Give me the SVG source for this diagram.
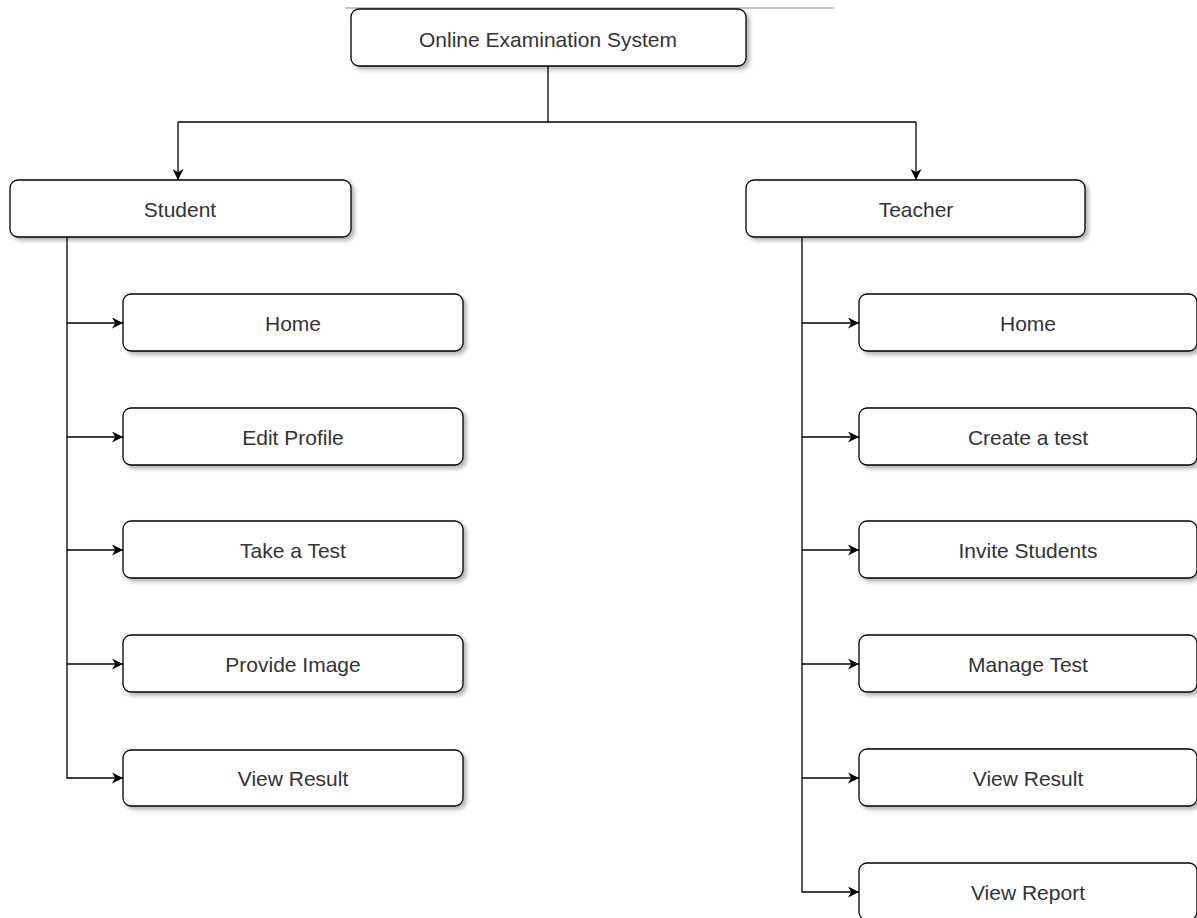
<svg xmlns="http://www.w3.org/2000/svg" width="1197" height="918" viewBox="0 0 1197 918">
<defs>
<filter id="sh" x="-5%" y="-10%" width="112%" height="130%">
<feGaussianBlur in="SourceAlpha" stdDeviation="2"/>
<feOffset dx="3" dy="3" result="b"/>
<feComponentTransfer><feFuncA type="linear" slope="0.3"/></feComponentTransfer>
<feMerge><feMergeNode/><feMergeNode in="SourceGraphic"/></feMerge>
</filter>
<marker id="ar" viewBox="0 0 10 10" refX="10" refY="5" markerWidth="11" markerHeight="11" markerUnits="userSpaceOnUse" orient="auto">
<path d="M0,0 L10,5 L0,10 L3,5 Z" fill="#000"/>
</marker>
</defs>
<style>
.box{fill:#fff;stroke:#000;stroke-width:1.3;filter:url(#sh)}
.t{font-family:"Liberation Sans",Arial,sans-serif;font-size:21px;fill:#333;text-anchor:middle;dominant-baseline:central}
.c{fill:none;stroke:#000;stroke-width:1.3}
</style>
<rect width="1197" height="918" fill="#fff"/>
<line x1="345" y1="8" x2="834" y2="8" stroke="#888" stroke-width="1"/>
<g id="connectors">
<path class="c" d="M548,66 V122"/>
<path class="c" d="M178,122 H916"/>
<path class="c" d="M178,122 V180" marker-end="url(#ar)"/>
<path class="c" d="M916,122 V180" marker-end="url(#ar)"/>
<path class="c" d="M67,237 V778 H123" marker-end="url(#ar)"/>
<path class="c" d="M67,323 H123" marker-end="url(#ar)"/>
<path class="c" d="M67,437 H123" marker-end="url(#ar)"/>
<path class="c" d="M67,550 H123" marker-end="url(#ar)"/>
<path class="c" d="M67,664 H123" marker-end="url(#ar)"/>
<path class="c" d="M802,237 V892 H859" marker-end="url(#ar)"/>
<path class="c" d="M802,323 H859" marker-end="url(#ar)"/>
<path class="c" d="M802,437 H859" marker-end="url(#ar)"/>
<path class="c" d="M802,550 H859" marker-end="url(#ar)"/>
<path class="c" d="M802,664 H859" marker-end="url(#ar)"/>
<path class="c" d="M802,778 H859" marker-end="url(#ar)"/>
</g>
<g id="root"><rect class="box" x="351" y="9" width="395" height="57" rx="8"/><text class="t" x="548" y="39">Online Examination System</text></g>
<g id="student"><rect class="box" x="10" y="180" width="341" height="57" rx="8"/><text class="t" x="180" y="209">Student</text></g>
<g id="teacher"><rect class="box" x="746" y="180" width="339" height="57" rx="8"/><text class="t" x="916" y="209">Teacher</text></g>
<g id="s-home"><rect class="box" x="123" y="294" width="340" height="57" rx="8"/><text class="t" x="293" y="323">Home</text></g>
<g id="s-edit"><rect class="box" x="123" y="408" width="340" height="57" rx="8"/><text class="t" x="293" y="437">Edit Profile</text></g>
<g id="s-take"><rect class="box" x="123" y="521" width="340" height="57" rx="8"/><text class="t" x="293" y="550">Take a Test</text></g>
<g id="s-image"><rect class="box" x="123" y="635" width="340" height="57" rx="8"/><text class="t" x="293" y="664">Provide Image</text></g>
<g id="s-result"><rect class="box" x="123" y="750" width="340" height="56" rx="8"/><text class="t" x="293" y="778">View Result</text></g>
<g id="t-home"><rect class="box" x="859" y="294" width="338" height="57" rx="8"/><text class="t" x="1028" y="323">Home</text></g>
<g id="t-create"><rect class="box" x="859" y="408" width="338" height="57" rx="8"/><text class="t" x="1028" y="437">Create a test</text></g>
<g id="t-invite"><rect class="box" x="859" y="521" width="338" height="57" rx="8"/><text class="t" x="1028" y="550">Invite Students</text></g>
<g id="t-manage"><rect class="box" x="859" y="635" width="338" height="57" rx="8"/><text class="t" x="1028" y="664">Manage Test</text></g>
<g id="t-result"><rect class="box" x="859" y="749" width="338" height="57" rx="8"/><text class="t" x="1028" y="778">View Result</text></g>
<g id="t-report"><rect class="box" x="859" y="863" width="338" height="57" rx="8"/><text class="t" x="1028" y="892">View Report</text></g>
</svg>
